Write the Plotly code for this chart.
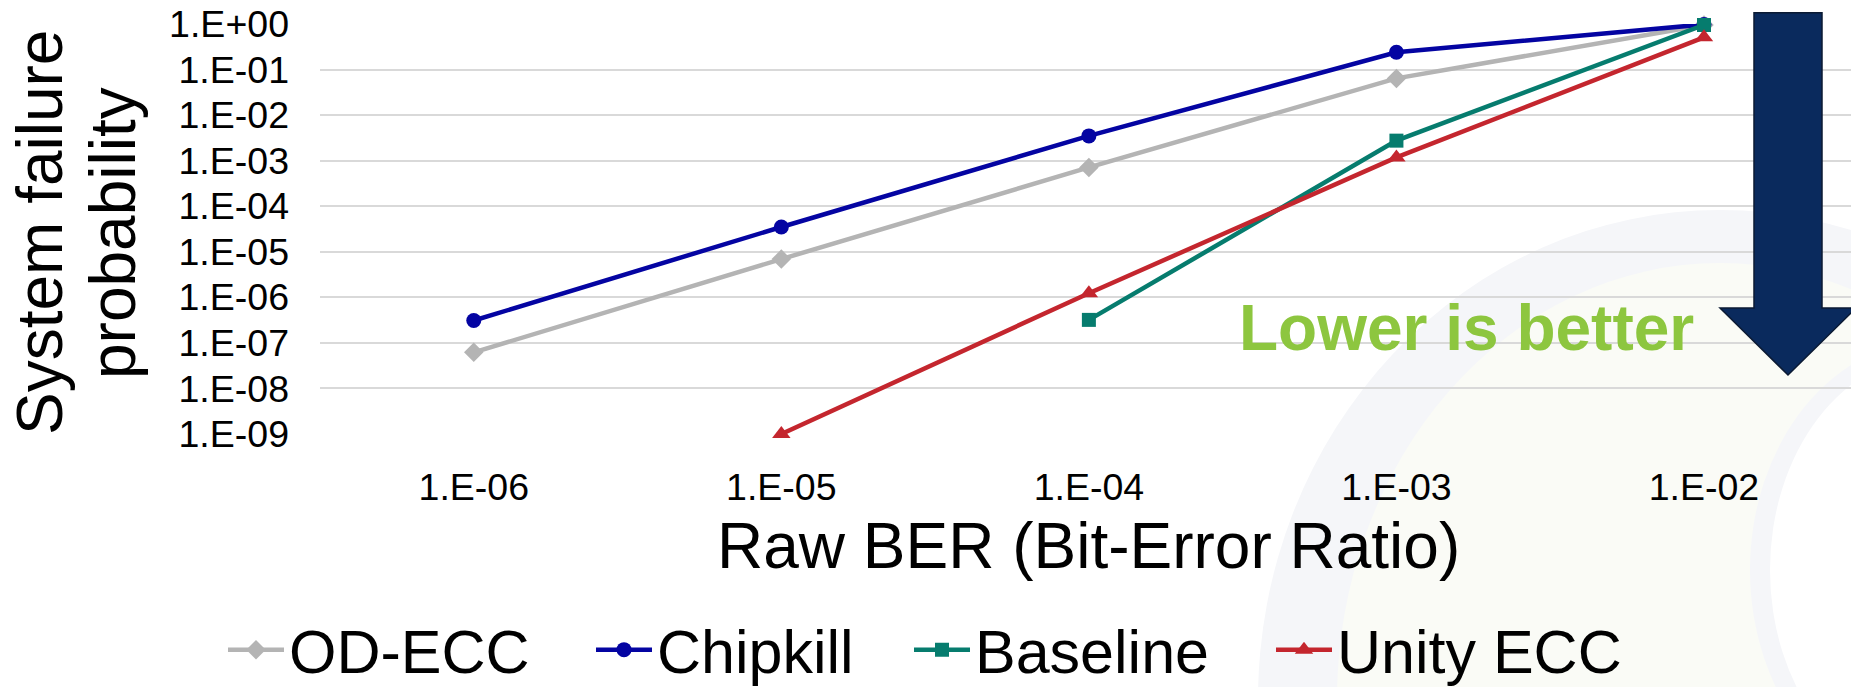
import plotly.graph_objects as go

# ---------------- data ----------------
ber = [1e-6, 1e-5, 1e-4, 1e-3, 1e-2]
x_tick_labels = ["1.E-06", "1.E-05", "1.E-04", "1.E-03", "1.E-02"]

od_ecc_x = [1e-6, 1e-5, 1e-4, 1e-3, 1e-2]
od_ecc_y = [6.2e-8, 6.9e-6, 7.1e-4, 6.4e-2, 0.95]

chipkill_x = [1e-6, 1e-5, 1e-4, 1e-3, 1e-2]
chipkill_y = [3.1e-7, 3.5e-5, 3.5e-3, 2.4e-1, 0.98]

baseline_x = [1e-4, 1e-3, 1e-2]
baseline_y = [3.2e-7, 2.75e-3, 0.95]

unity_x = [1e-5, 1e-4, 1e-3, 1e-2]
unity_y = [1.0e-9, 1.23e-6, 1.18e-3, 0.51]

y_tick_vals = [1e0, 1e-1, 1e-2, 1e-3, 1e-4, 1e-5, 1e-6, 1e-7, 1e-8, 1e-9]
y_tick_labels = ["1.E+00", "1.E-01", "1.E-02", "1.E-03", "1.E-04",
                 "1.E-05", "1.E-06", "1.E-07", "1.E-08", "1.E-09"]

# ---------------- geometry ----------------
FIG_W, FIG_H = 1851, 687
L, T = 320, 24
PLOT_W = FIG_W - L          # 1531
PLOT_H = 410
B = FIG_H - T - PLOT_H
DECADE_PX = 307.55
x_lo = -6.5
x_hi = x_lo + PLOT_W / DECADE_PX

FONT = "Arial, Liberation Sans, sans-serif"


def px(xp):
    return (xp - L) / PLOT_W


def py(yp):
    return (T + PLOT_H - yp) / PLOT_H


fig = go.Figure()

# name, x, y, colour, symbol, size, legend id, legend left pixel
series = [
    ("OD-ECC", od_ecc_x, od_ecc_y, "#B4B4B4", "diamond", 15, "legend", 228),
    ("Chipkill", chipkill_x, chipkill_y, "#0404A2", "circle", 15, "legend2", 596),
    ("Baseline", baseline_x, baseline_y, "#067C6E", "square", 14, "legend3", 914),
    ("Unity ECC", unity_x, unity_y, "#C4262E", "triangle-up", 16, "legend4", 1276),
]
legend_layouts = {}
LEG_OFFSET = 5
for name, xs, ys, col, sym, sz, leg, left in series:
    fig.add_trace(go.Scatter(
        x=xs, y=ys, name=name, mode="lines+markers",
        line=dict(color=col, width=4.5),
        marker=dict(color=col, symbol=sym, size=sz, line=dict(width=0)),
        cliponaxis=False, legend=leg,
    ))
    legend_layouts[leg] = dict(
        orientation="h", xref="container", yref="container",
        x=(left - LEG_OFFSET) / FIG_W, y=1 - 650 / FIG_H,
        xanchor="left", yanchor="middle",
        font=dict(family=FONT, size=61, color="#000000"),
        itemwidth=56, bgcolor="rgba(0,0,0,0)",
        itemclick=False, itemdoubleclick=False,
    )

shapes = []
# faint background ring (slide decoration)
def ellipse(cx, cy, rx, ry, fill):
    return dict(type="circle", xref="paper", yref="paper", layer="below",
                x0=px(cx - rx), x1=px(cx + rx), y0=py(cy + ry), y1=py(cy - ry),
                fillcolor=fill, line=dict(width=0))

shapes.append(ellipse(1720, 700, 462, 490, "#F5F6F9"))
shapes.append(ellipse(1720, 700, 383, 437, "#FAFBF6"))
shapes.append(ellipse(1935, 570, 185, 230, "#F5F6F9"))
shapes.append(ellipse(1935, 570, 165, 215, "#FFFFFF"))

# big arrow
arrow_pts = [(1754, 12.7), (1822, 12.7), (1822, 308), (1856, 308), (1788, 375),
             (1720, 308), (1754, 308)]
path = "M " + " L ".join(f"{px(a):.5f},{py(b):.5f}" for a, b in arrow_pts) + " Z"
shapes.append(dict(type="path", xref="paper", yref="paper", path=path,
                   fillcolor="#0A2A5D", line=dict(color="#0B1A33", width=1.5),
                   layer="above"))

annotations = [
    dict(text="Lower is better", x=px(1466), y=py(328), xref="paper", yref="paper",
         showarrow=False, xanchor="center", yanchor="middle",
         font=dict(family=FONT, size=64, color="#8DC63F", weight="bold")),
    dict(text="System failure", x=px(40), y=py(233), xref="paper", yref="paper",
         showarrow=False, textangle=-90, xanchor="center", yanchor="middle",
         font=dict(family=FONT, size=64, color="#000000")),
    dict(text="probability", x=px(113), y=py(233), xref="paper", yref="paper",
         showarrow=False, textangle=-90, xanchor="center", yanchor="middle",
         font=dict(family=FONT, size=64, color="#000000")),
    dict(text="Raw BER (Bit-Error Ratio)", x=px(1088), y=py(546), xref="paper", yref="paper",
         showarrow=False, xanchor="center", yanchor="middle",
         font=dict(family=FONT, size=64, color="#000000")),
]

fig.update_layout(
    width=FIG_W, height=FIG_H,
    margin=dict(l=L, r=0, t=T, b=B, pad=0, autoexpand=False),
    paper_bgcolor="#FFFFFF", plot_bgcolor="rgba(0,0,0,0)",
    font=dict(family=FONT, color="#000000"),
    shapes=shapes, annotations=annotations,
    showlegend=True,
    **legend_layouts,
)

fig.update_xaxes(
    type="log", range=[x_lo, x_hi],
    tickmode="array", tickvals=ber, ticktext=x_tick_labels,
    tickfont=dict(family=FONT, size=37.5, color="#000000"),
    showgrid=False, zeroline=False, showline=False, ticks="",
    ticklabelstandoff=27,
)
fig.update_yaxes(
    type="log", range=[-9, 0],
    tickmode="array", tickvals=y_tick_vals, ticktext=y_tick_labels,
    tickfont=dict(family=FONT, size=37.5, color="#000000"),
    showgrid=True, gridcolor="#D9D9D9", gridwidth=1.5,
    zeroline=False, showline=False, ticks="",
    ticklabelstandoff=30,
)

fig.write_html("out.html")
